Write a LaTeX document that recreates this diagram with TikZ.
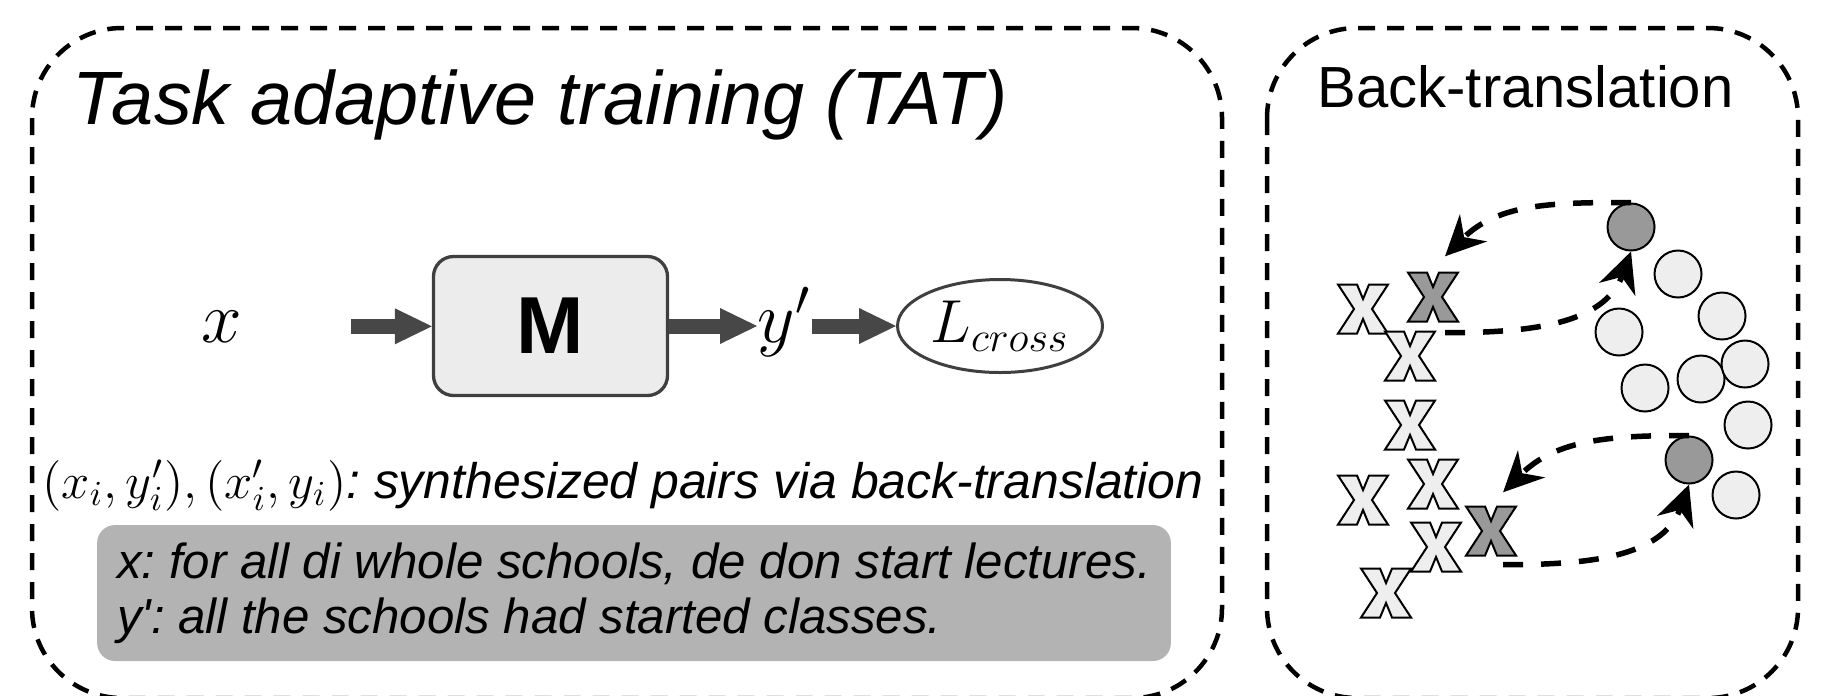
\documentclass[tikz,border=0pt]{standalone}
\usepackage{fontspec}
\setmainfont{Liberation Sans}
\usetikzlibrary{arrows.meta,shapes.geometric}

\definecolor{lightfill}{HTML}{EEEEEE}
\definecolor{darkfill}{HTML}{999999}
\definecolor{boxfill}{HTML}{ECECEC}
\definecolor{boxline}{HTML}{3F3F3F}
\definecolor{arrowgray}{HTML}{474747}
\definecolor{notegray}{HTML}{B3B3B3}

\begin{document}
\frenchspacing
\begin{tikzpicture}[
panel/.style={draw=black, line width=0.045cm, dash pattern=on 0.17cm off 0.12cm, rounded corners=0.9cm},
blockarrow/.style={draw=arrowgray, line width=0.15cm, -{Triangle[length=0.37cm, width=0.36cm, line width=0pt]}},
mathlbl/.style={inner sep=0pt, font=\fontsize{20.5pt}{24pt}\selectfont},
model/.style={draw=boxline, fill=boxfill, line width=0.033cm, rounded corners=0.2cm, minimum width=2.34cm, minimum height=1.39cm, font=\fontsize{23pt}{27pt}\selectfont\bfseries},
lossnode/.style={ellipse, draw=boxline, line width=0.03cm, minimum width=2.05cm, minimum height=0.93cm, inner sep=0pt, font=\fontsize{17pt}{20pt}\selectfont},
note/.style={fill=notegray, rounded corners=0.18cm, align=left, inner xsep=0.2cm, inner ysep=0.16cm, minimum width=10.72cm, minimum height=1.36cm, font=\fontsize{14pt}{15.6pt}\selectfont\itshape},
xmark/.style={minimum width=0.58cm, minimum height=0.58cm, inner sep=0pt,
  path picture={\draw[shift={(path picture bounding box.center)}, fill=#1, line width=0.02cm]
    (-0.25,0.245) -- (-0.06,0.245) -- (0,0.1) -- (0.06,0.245) -- (0.25,0.245) -- (0.09,0)
    -- (0.25,-0.245) -- (0.06,-0.245) -- (0,-0.1) -- (-0.06,-0.245) -- (-0.25,-0.245) -- (-0.09,0) -- cycle;}},
xmark/.default=lightfill,
dotnode/.style={circle, draw=black, line width=0.02cm, fill=#1, minimum size=0.47cm, inner sep=0pt},
dotnode/.default=lightfill,
backarrow/.style={line width=0.055cm, dash pattern=on 0.2cm off 0.18cm, -{Stealth[length=0.4cm, width=0.38cm]}}
]
    \useasboundingbox (0,0) rectangle (18.43,-6.95);

    % the two dashed panels
    \draw[panel] (0.32,-0.28) rectangle (12.22,-6.98);
    \draw[panel] (12.67,-0.28) rectangle (17.98,-6.98);

    % left panel: TAT
    \node[font=\fontsize{21.5pt}{25pt}\selectfont\itshape, anchor=base west, inner sep=0pt] (tat) at (0.72,-1.24) {Task adaptive training (TAT)};

    \node[mathlbl, anchor=base] (xin) at (2.22,-3.42) {$x$};
    \node[model] (mbox) at (5.505,-3.26) {M};
    \node[mathlbl, anchor=base west] (yp) at (7.57,-3.42) {$y'$};
    \node[lossnode] (loss) at (10.00,-3.26) {$L_{cross}$};

    \draw[blockarrow, shorten <=1.08cm] (xin.east) -- (xin.east -| mbox.west);
    \draw[blockarrow] (mbox.east) -- (mbox.east -| yp.west);
    \draw[blockarrow] (yp.east |- loss.west) -- (loss.west);

    \node[font=\fontsize{14.2pt}{16pt}\selectfont\itshape, inner sep=0pt, anchor=base] (pairs) at (6.23,-4.98) {$(x_i, y_i'), (x_i', y_i)$: synthesized pairs via back-translation};

    \node[note] (example) at (6.34,-5.93) {x: for all di whole schools, de don start lectures.\\ y\textquotesingle: all the schools had started classes.};

    % right panel: back-translation
    \node[font=\fontsize{16.5pt}{19pt}\selectfont, anchor=base west, inner sep=0pt] (bt) at (13.17,-1.07) {Back-translation};

    \node[xmark] (x1) at (13.63,-3.09) {};
    \node[xmark=darkfill] (x2) at (14.33,-2.97) {};
    \node[xmark] (x3) at (14.10,-3.56) {};
    \node[xmark] (x4) at (14.10,-4.25) {};
    \node[xmark] (x5) at (13.63,-5.00) {};
    \node[xmark] (x6) at (14.33,-4.84) {};
    \node[xmark=darkfill] (x7) at (14.91,-5.31) {};
    \node[xmark] (x8) at (14.36,-5.47) {};
    \node[xmark] (x9) at (13.86,-5.93) {};

    \node[dotnode=darkfill] (d1) at (16.31,-2.27) {};
    \node[dotnode] (c1) at (16.78,-2.74) {};
    \node[dotnode] (c2) at (17.22,-3.16) {};
    \node[dotnode] (c3) at (16.19,-3.32) {};
    \node[dotnode] (c4) at (16.45,-3.88) {};
    \node[dotnode] (c5) at (17.01,-3.79) {};
    \node[dotnode] (c6) at (17.45,-3.64) {};
    \node[dotnode] (c7) at (17.48,-4.25) {};
    \node[dotnode=darkfill] (d2) at (16.89,-4.60) {};
    \node[dotnode] (c8) at (17.36,-4.95) {};

    \draw[backarrow] ([shift={(0.12,-0.06)}]x2.south) to[out=0,in=-110] (d1.south);
    \draw[backarrow] (d1.north) to[out=180,in=45] ([shift={(0.12,0.11)}]x2.north);
    \draw[backarrow] ([shift={(0.12,-0.04)}]x7.south) to[out=0,in=-110] (d2.south);
    \draw[backarrow] (d2.north) to[out=180,in=45] ([shift={(0.12,0.09)}]x7.north);
\end{tikzpicture}
\end{document}
